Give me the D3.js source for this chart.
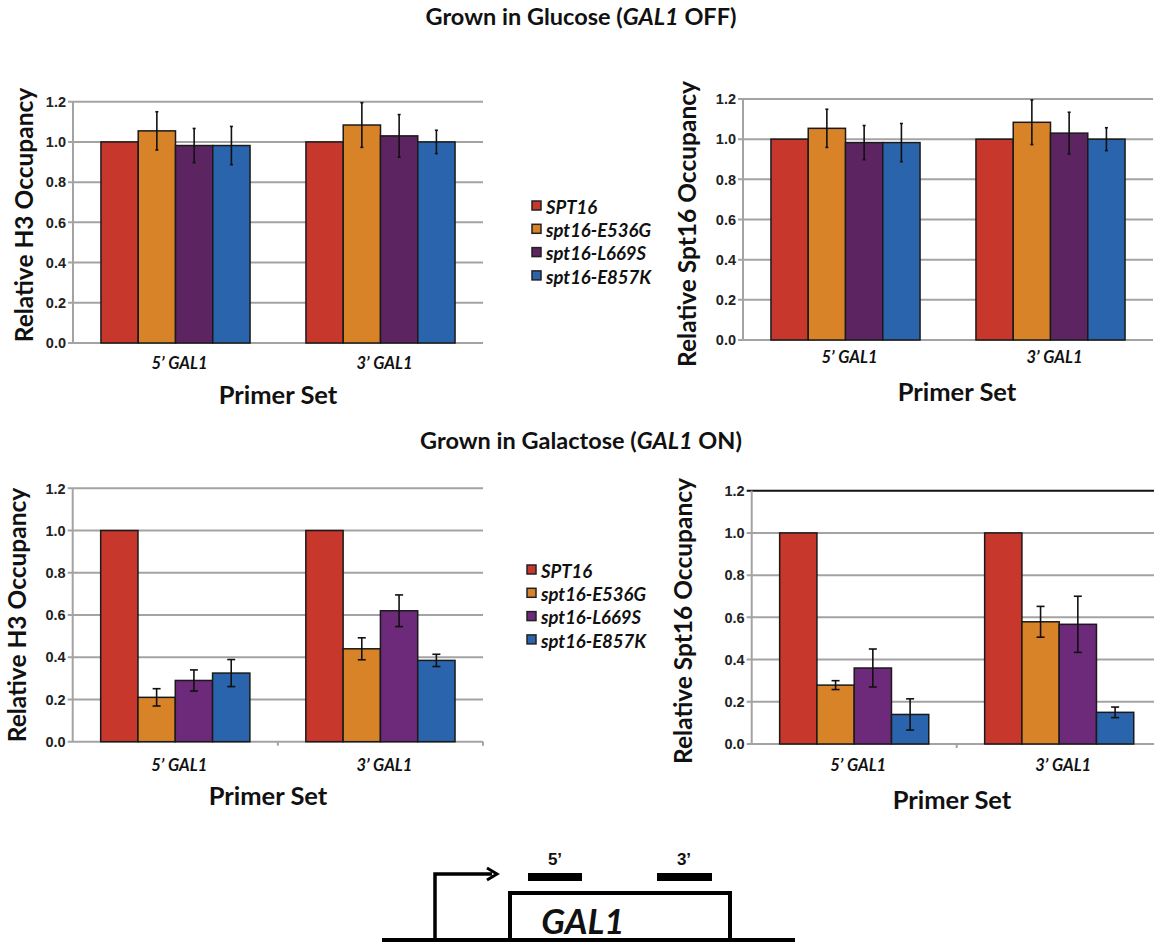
<!DOCTYPE html>
<html>
<head>
<meta charset="utf-8">
<script src="https://cdn.jsdelivr.net/npm/d3@7"></script>
<style>
  body { margin: 0; background: #fff; }
  svg { display: block; }
</style>
</head>
<body>
<div id="chart"></div>
<script>
// categories / series
var categories = ["5’ GAL1", "3’ GAL1"];
var strains = ["SPT16", "spt16-E536G", "spt16-L669S", "spt16-E857K"];
var yTicks = [0, 0.2, 0.4, 0.6, 0.8, 1.0, 1.2];

// glucose, H3 (per primer set, one value per strain)
var gluH3 = [[1.0, 1.055, 0.982, 0.982], [1.0, 1.084, 1.03, 1.0]];
var gluH3Err = [[0, 0.095, 0.085, 0.095], [0, 0.111, 0.106, 0.058]];
// glucose, Spt16
var gluSpt = [[1.0, 1.054, 0.983, 0.983], [1.0, 1.084, 1.03, 1.0]];
var gluSptErr = [[0, 0.095, 0.085, 0.095], [0, 0.111, 0.104, 0.057]];
// galactose, H3
var galH3 = [[1.0, 0.21, 0.29, 0.325], [1.0, 0.44, 0.62, 0.385]];
var galH3Err = [[0, 0.041, 0.05, 0.064], [0, 0.052, 0.075, 0.029]];
// galactose, Spt16
var galSpt = [[1.0, 0.279, 0.36, 0.14], [1.0, 0.579, 0.567, 0.15]];
var galSptErr = [[0, 0.021, 0.09, 0.074], [0, 0.073, 0.133, 0.025]];

var colorsTop = ["#c8372b", "#d98328", "#5c2562", "#2964ad"];
var colorsBottom = ["#c8372b", "#d98328", "#6d2a7a", "#2964ad"];

var W = 1154, H = 947;
var svg = d3.select("#chart").append("svg")
    .attr("width", W).attr("height", H);

var calibri = "Lato, 'Open Sans', sans-serif";
var arial = "'Liberation Sans', Arial, sans-serif";

function drawPanel(p) {
    var x = d3.scaleBand().domain(categories).range([p.x0, p.x1]);
    var xs = d3.scaleBand().domain(strains).range([0, x.bandwidth()]).paddingOuter(0.75);
    var y = d3.scaleLinear().domain([0, 1.2]).range([p.y0, p.yTop]);
    var g = svg.append("g");

    // gridlines
    g.append("g").selectAll("line").data(yTicks).enter().append("line")
        .attr("x1", p.x0 - 5).attr("x2", Math.min(p.x1, W))
        .attr("y1", function (d) { return y(d); })
        .attr("y2", function (d) { return y(d); })
        .attr("stroke", function (d) { return (p.topBlack && d == 1.2) ? "#111" : "#a3a3a3"; })
        .attr("stroke-width", 2);
    // y axis line
    g.append("line").attr("x1", p.x0).attr("x2", p.x0)
        .attr("y1", y(1.2)).attr("y2", y(0))
        .attr("stroke", "#a3a3a3").attr("stroke-width", 2);
    if (p.xTicks) {
        g.append("g").selectAll("line").data(categories).enter().append("line")
            .attr("x1", function (d) { return x(d) + x.bandwidth(); })
            .attr("x2", function (d) { return x(d) + x.bandwidth(); })
            .attr("y1", y(0)).attr("y2", y(0) + 4)
            .attr("stroke", "#a3a3a3").attr("stroke-width", 2);
    }
    // tick labels
    g.append("g").selectAll("text").data(yTicks).enter().append("text")
        .attr("x", p.x0 - 7).attr("y", function (d) { return y(d); })
        .attr("dy", "0.36em").attr("text-anchor", "end")
        .attr("font-family", arial).attr("font-weight", "bold").attr("font-size", 14.5)
        .attr("fill", "#222")
        .text(function (d) { return d.toFixed(1); });

    // bars
    var groups = g.append("g").selectAll("g").data(categories).enter().append("g")
        .attr("transform", function (d) { return "translate(" + x(d) + ",0)"; });
    groups.selectAll("rect").data(function (d, i) {
        return strains.map(function (s, j) { return { s: s, v: p.values[i][j], e: p.errs[i][j], j: j }; });
    }).enter().append("rect")
        .attr("x", function (d) { return xs(d.s); })
        .attr("width", xs.bandwidth())
        .attr("y", function (d) { return y(d.v); })
        .attr("height", function (d) { return y(0) - y(d.v); })
        .attr("fill", function (d) { return p.colors[d.j]; })
        .attr("stroke", "#1a1a1a").attr("stroke-width", 1.5);
    // error bars
    var eb = groups.selectAll("g.err").data(function (d, i) {
        return strains.map(function (s, j) { return { s: s, v: p.values[i][j], e: p.errs[i][j] }; })
            .filter(function (d) { return d.e > 0; });
    }).enter().append("g").attr("class", "err");
    eb.append("line")
        .attr("x1", function (d) { return xs(d.s) + xs.bandwidth() / 2; })
        .attr("x2", function (d) { return xs(d.s) + xs.bandwidth() / 2; })
        .attr("y1", function (d) { return y(d.v + d.e); })
        .attr("y2", function (d) { return y(d.v - d.e); })
        .attr("stroke", "#111").attr("stroke-width", 1.6);
    [1, -1].forEach(function (sgn) {
        eb.append("line")
            .attr("x1", function (d) { return xs(d.s) + xs.bandwidth() / 2 - p.cap; })
            .attr("x2", function (d) { return xs(d.s) + xs.bandwidth() / 2 + p.cap; })
            .attr("y1", function (d) { return y(d.v + sgn * d.e); })
            .attr("y2", function (d) { return y(d.v + sgn * d.e); })
            .attr("stroke", "#111").attr("stroke-width", 1.6);
    });

    // category labels
    g.append("g").selectAll("text").data(categories).enter().append("text")
        .attr("x", function (d) { return x(d) + x.bandwidth() / 2 + 4; })
        .attr("y", p.catY)
        .attr("text-anchor", "middle")
        .attr("font-family", calibri).attr("font-style", "italic").attr("font-weight", "bold")
        .attr("font-size", 16.5).attr("fill", "#111")
        .text(function (d) { return d; });
    // axis titles
    g.append("text")
        .attr("x", p.xTitleX).attr("y", p.xTitleY).attr("text-anchor", "middle")
        .attr("font-family", calibri).attr("font-weight", "bold").attr("font-size", 25.5)
        .attr("fill", "#111").text("Primer Set");
    g.append("text")
        .attr("transform", "translate(" + p.yTitleX + "," + p.yTitleY + ") rotate(-90)")
        .attr("text-anchor", "middle")
        .attr("font-family", calibri).attr("font-weight", "bold").attr("font-size", 24.5)
        .attr("fill", "#111").text(p.yTitle);
}

function drawLegend(lx, ly, colors) {
    var lg = svg.append("g").attr("transform", "translate(" + lx + "," + ly + ")");
    var row = lg.selectAll("g").data(strains).enter().append("g")
        .attr("transform", function (d, i) { return "translate(0," + (i * 23.3) + ")"; });
    row.append("rect").attr("x", 0).attr("y", -9).attr("width", 9).attr("height", 9)
        .attr("fill", function (d, i) { return colors[i]; })
        .attr("stroke", "#222").attr("stroke-width", 1.5);
    row.append("text").attr("x", 14).attr("y", 0).attr("dy", "0.2em")
        .attr("font-family", calibri).attr("font-style", "italic").attr("font-weight", "bold")
        .attr("font-size", 18.5).attr("fill", "#111")
        .text(function (d) { return d; });
}

function sectionTitle(cx, cy, pre, mid, post) {
    var t = svg.append("text").attr("x", cx).attr("y", cy).attr("text-anchor", "middle")
        .attr("font-family", calibri).attr("font-weight", "bold").attr("font-size", 23.5)
        .attr("fill", "#111");
    t.append("tspan").text(pre);
    t.append("tspan").attr("font-style", "italic").text(mid);
    t.append("tspan").text(post);
}

sectionTitle(581, 25, "Grown in Glucose (", "GAL1", " OFF)");
sectionTitle(581, 449, "Grown in Galactose (", "GAL1", " ON)");

drawPanel({ x0: 73, x1: 483, yTop: 101.7, y0: 343, values: gluH3, errs: gluH3Err, colors: colorsTop,
    cap: 1.5, catY: 369, xTitleX: 278, xTitleY: 404, yTitleX: 33, yTitleY: 215, yTitle: "Relative H3 Occupancy" });
drawPanel({ x0: 743, x1: 1153, yTop: 99, y0: 340, values: gluSpt, errs: gluSptErr, colors: colorsTop,
    cap: 1.5, catY: 363, xTitleX: 957, xTitleY: 401, yTitleX: 696, yTitleY: 224, yTitle: "Relative Spt16 Occupancy" });
drawPanel({ x0: 72.7, x1: 483, yTop: 488.3, y0: 741.7, values: galH3, errs: galH3Err, colors: colorsBottom,
    cap: 4, catY: 771, xTitleX: 268, xTitleY: 805, yTitleX: 26, yTitleY: 615, yTitle: "Relative H3 Occupancy", xTicks: true });
drawPanel({ x0: 751.7, x1: 1161.7, yTop: 490.7, y0: 744, values: galSpt, errs: galSptErr, colors: colorsBottom,
    cap: 4, catY: 771, xTitleX: 952, xTitleY: 809, yTitleX: 692, yTitleY: 621, yTitle: "Relative Spt16 Occupancy", xTicks: true, topBlack: true });

drawLegend(532, 210, colorsTop);
drawLegend(527, 574, colorsBottom);

// GAL1 gene schematic
var dg = svg.append("g").attr("fill", "none").attr("stroke", "#000");
dg.append("line").attr("x1", 382).attr("x2", 795).attr("y1", 940).attr("y2", 940).attr("stroke-width", 4);
dg.append("path").attr("d", "M435,940 V874 H492").attr("stroke-width", 3.5);
dg.append("path").attr("d", "M487,868 L497,874 L487,880").attr("stroke-width", 3);
dg.append("path").attr("d", "M510,940 V893 H730 V940").attr("stroke-width", 4);
dg.append("line").attr("x1", 528).attr("x2", 582).attr("y1", 877).attr("y2", 877).attr("stroke-width", 8);
dg.append("line").attr("x1", 657).attr("x2", 712).attr("y1", 877).attr("y2", 877).attr("stroke-width", 8);
svg.append("text").attr("x", 583).attr("y", 934).attr("text-anchor", "middle")
    .attr("font-family", calibri).attr("font-style", "italic").attr("font-weight", "bold")
    .attr("font-size", 35).attr("fill", "#111")
    .text("GAL1");
[["5’", 555], ["3’", 684]].forEach(function (l) {
    svg.append("text").attr("x", l[1]).attr("y", 865).attr("text-anchor", "middle")
        .attr("font-family", arial).attr("font-weight", "bold").attr("font-size", 17).attr("fill", "#111")
        .text(l[0]);
});
</script>
</body>
</html>
